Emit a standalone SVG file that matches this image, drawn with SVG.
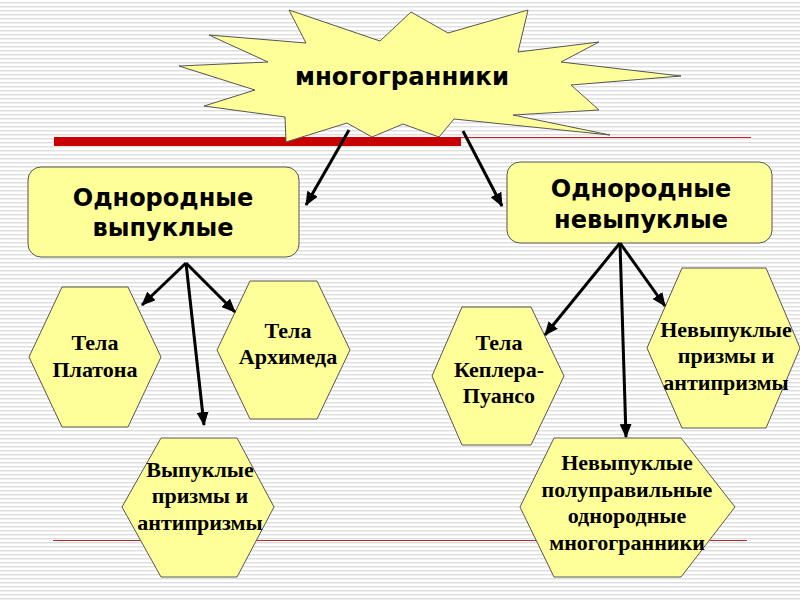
<svg xmlns="http://www.w3.org/2000/svg" width="800" height="600" viewBox="0 0 800 600">
<defs>
<pattern id="bg" width="8" height="4" patternUnits="userSpaceOnUse">
<rect width="8" height="4" fill="#ffffff"/>
<rect y="2" width="8" height="1.4" fill="#dedede"/>
</pattern>
<marker id="ah" markerUnits="userSpaceOnUse" markerWidth="14" markerHeight="12" refX="13" refY="6" orient="auto">
<path d="M0,0 L14,6 L0,12 Z" fill="#000"/>
</marker>
</defs>
<style>
.shape{fill:#ffff99;stroke:#555;stroke-width:1}
.box{font-family:"DejaVu Sans",Verdana,sans-serif;font-weight:bold;font-size:24px;text-anchor:middle;fill:#000}
.star{font-family:"DejaVu Sans",Verdana,sans-serif;font-weight:bold;font-size:25px;text-anchor:middle;fill:#000}
.hx{font-family:"Liberation Serif","Times New Roman",serif;font-weight:bold;font-size:22px;text-anchor:middle;fill:#000}
.con{stroke:#000;stroke-width:3;fill:none;marker-end:url(#ah)}
</style>
<rect width="800" height="600" fill="url(#bg)"/>
<g id="decor">
<line x1="461" y1="137.5" x2="751" y2="137.5" stroke="#cc2222" stroke-width="1.2"/>
<line x1="53" y1="540.5" x2="747" y2="540.5" stroke="#b03030" stroke-width="1.2"/>
<rect x="54" y="137" width="407" height="9" fill="#c80000"/>
</g>
<g id="star">
<polygon class="shape" stroke="#444" points="289,10 380,41 411,12 448,33 528,10 518,52 599,42 561,62 681,76 571,85 599,110 513,115 610,135 454,119 439,137 403,124 372,137 347,123 286,142 285,117 204,106 255,90 179,66 268,62 209,35 306,43"/>
<text class="star" x="402" y="85" textLength="214" lengthAdjust="spacingAndGlyphs">многогранники</text>
</g>
<g id="convex">
<rect class="shape" x="28" y="167" width="271" height="90" rx="13"/>
<text class="box" x="163" y="206">Однородные</text>
<text class="box" x="163" y="236">выпуклые</text>
</g>
<g id="nonconvex">
<rect class="shape" x="507" y="162" width="265" height="81" rx="13"/>
<text class="box" x="641" y="197">Однородные</text>
<text class="box" x="641" y="228">невыпуклые</text>
</g>
<g id="platon">
<polygon class="shape" points="62,287 128,287 161,357 128,427 62,427 29,357"/>
<text class="hx" x="95" y="350">Тела</text>
<text class="hx" x="95" y="377">Платона</text>
</g>
<g id="archimed">
<polygon class="shape" points="250,281 317,281 350,350 317,419 250,419 217,350"/>
<text class="hx" x="288" y="338">Тела</text>
<text class="hx" x="288" y="364">Архимеда</text>
</g>
<g id="convexprisms">
<polygon class="shape" points="161,438 237,438 274,507 237,577 161,577 122,507"/>
<text class="hx" x="200" y="477">Выпуклые</text>
<text class="hx" x="200" y="503">призмы и</text>
<text class="hx" x="200" y="530">антипризмы</text>
</g>
<g id="kepler">
<polygon class="shape" points="462,307 531,307 564,376 531,445 462,445 432,376"/>
<text class="hx" x="499" y="350">Тела</text>
<text class="hx" x="499" y="377">Кеплера-</text>
<text class="hx" x="499" y="403">Пуансо</text>
</g>
<g id="nonconvexprisms">
<polygon class="shape" points="682,268 766,268 800,348 766,428 682,428 647,348"/>
<text class="hx" x="726" y="337">Невыпуклые</text>
<text class="hx" x="726" y="363">призмы и</text>
<text class="hx" x="726" y="390">антипризмы</text>
</g>
<g id="uniform">
<polygon class="shape" points="554,438 681,438 735,507 681,577 554,577 520,507"/>
<text class="hx" x="627" y="470">Невыпуклые</text>
<text class="hx" x="627" y="497">полуправильные</text>
<text class="hx" x="627" y="523">однородные</text>
<text class="hx" x="627" y="550">многогранники</text>
</g>
<g id="connectors">
<line class="con" x1="349" y1="130" x2="306" y2="205"/>
<line class="con" x1="463" y1="131" x2="502" y2="206"/>
<line class="con" x1="186" y1="263" x2="142" y2="305"/>
<line class="con" x1="186" y1="263" x2="235" y2="312"/>
<line class="con" x1="186" y1="263" x2="204" y2="425"/>
<line class="con" x1="620" y1="243" x2="545" y2="335"/>
<line class="con" x1="620" y1="243" x2="665" y2="306"/>
<line class="con" x1="620" y1="243" x2="626" y2="437"/>
</g>
</svg>
